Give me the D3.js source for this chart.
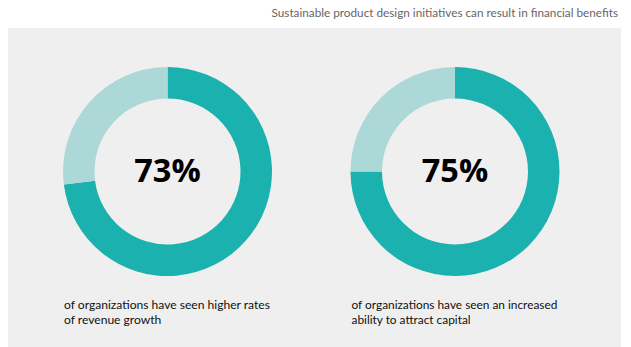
<!DOCTYPE html>
<html><head><meta charset="utf-8">
<script src="https://cdn.jsdelivr.net/npm/d3@7"></script>
<style>body{margin:0;background:#fff;}svg{display:block;}</style>
</head><body>
<svg id="c" width="631" height="347"></svg>
<script>
const title = "Sustainable product design initiatives can result in financial benefits";
const labels = ["73%", "75%"];
const values = [73, 75];
const captions = [
  ["of organizations have seen higher rates", "of revenue growth"],
  ["of organizations have seen an increased", "ability to attract capital"]
];
const colors = ["#1bb1ae", "#acd9d8"];

const svg = d3.select("#c");
svg.append("rect").attr("x", 8).attr("y", 28).attr("width", 613).attr("height", 319).attr("fill", "#efefef");

function fitSize(sel, target, size) {
  const w = sel.node().getComputedTextLength();
  return size * target / w;
}

const tt = svg.append("text").attr("x", 618).attr("y", 17).attr("text-anchor", "end")
  .attr("font-family", "Lato, sans-serif").attr("font-size", 12).attr("fill", "#666")
  .text(title);
tt.attr("font-size", fitSize(tt, 347, 12));

const xs = d3.scalePoint().domain(d3.range(values.length)).range([167.5, 455]);
const pie = d3.pie().sort(null).value(d => d);
const arc = d3.arc().innerRadius(73).outerRadius(104.5);

values.forEach((v, i) => {
  const g = svg.append("g").attr("transform", `translate(${xs(i)},171.5)`);
  g.selectAll("path").data(pie([v, 100 - v])).join("path")
    .attr("d", arc).attr("fill", (d, j) => colors[j]);
  g.append("text").attr("text-anchor", "middle").attr("y", 10.5)
    .attr("font-family", "Open Sans, sans-serif").attr("font-weight", 700)
    .attr("font-size", 32.5).attr("fill", "#000").text(labels[i]);
  let size = 12;
  captions[i].forEach((line, k) => {
    const t = svg.append("text").attr("font-family", "Lato, sans-serif")
      .attr("font-size", 12).attr("fill", "#111")
      .attr("x", xs(i) - 103.5).attr("y", 309 + k * 14.5).text(line);
    if (k === 0) size = Math.min(12.5, fitSize(t, 206, 12));
    t.attr("font-size", size);
  });
});
</script>
</body></html>
